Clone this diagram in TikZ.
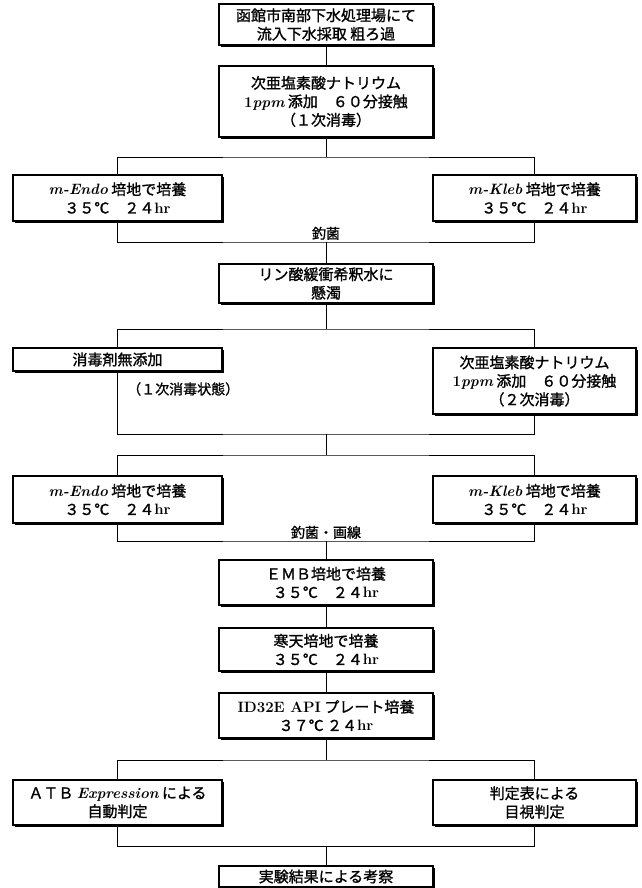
\documentclass[tikz,border=0pt]{standalone}
\usepackage{fontspec}
\usetikzlibrary{shadows}
\newfontfamily\jp[FakeBold=1.2]{Noto Sans CJK JP}
\newcommand\lmbi[1]{{\rmfamily\bfseries\itshape #1}}
\newcommand\lmi[1]{{\rmfamily\bfseries\itshape #1}}
\newcommand\lmb[1]{{\rmfamily\bfseries #1}}
\begin{document}
\begin{tikzpicture}[x=1pt,y=-1pt,
  box/.style={draw, line width=1.1pt, fill=white, inner sep=0pt, align=center,
    font=\jp\fontsize{15}{18.5}\selectfont,
    drop shadow={shadow xshift=2pt, shadow yshift=-2pt, fill=black, opacity=1}},
  cbox/.style={box, minimum width=214pt},
  lbox/.style={box, minimum width=209pt},
  rbox/.style={box, minimum width=203pt},
  conn/.style={line width=0.9pt},
  lbl/.style={font=\jp\fontsize{14}{16}\selectfont, inner sep=1pt}
]
\useasboundingbox[fill=white] (0,0) rectangle (641,888);

% nodes
\node[cbox, minimum height=41pt] (b1) at (326,24.5) {函館市南部下水処理場にて\\流入下水採取 粗ろ過};
\node[cbox, minimum height=71pt] (b2) at (326,101.5) {次亜塩素酸ナトリウム\\\lmb{1}\lmi{ppm} 添加　６０分接触\\（１次消毒）};
\node[lbox, minimum height=46pt] (endo1) at (117.5,198) {\lmbi{m-Endo} 培地で培養\\３５℃　２４\lmb{hr}};
\node[rbox, minimum height=46pt] (kleb1) at (534.5,198) {\lmbi{m-Kleb} 培地で培養\\３５℃　２４\lmb{hr}};
\node[cbox, minimum height=39pt] (rin) at (326,283.5) {リン酸緩衝希釈水に\\懸濁};
\node[lbox, minimum height=23pt] (mu) at (117.5,359.5) {消毒剤無添加};
\node[rbox, minimum height=66pt] (ji2) at (534.5,381) {次亜塩素酸ナトリウム\\\lmb{1}\lmi{ppm} 添加　６０分接触\\（２次消毒）};
\node[lbox, minimum height=47pt] (endo2) at (117.5,499.5) {\lmbi{m-Endo} 培地で培養\\３５℃　２４\lmb{hr}};
\node[rbox, minimum height=47pt] (kleb2) at (534.5,499.5) {\lmbi{m-Kleb} 培地で培養\\３５℃　２４\lmb{hr}};
\node[cbox, minimum height=45pt] (emb) at (326,582.5) {ＥＭＢ培地で培養\\３５℃　２４\lmb{hr}};
\node[cbox, minimum height=43pt] (kan) at (326,649.5) {寒天培地で培養\\３５℃　２４\lmb{hr}};
\node[cbox, minimum height=45pt] (id) at (326,715.5) {\lmb{ID32E API} プレート培養\\３７℃ ２４\lmb{hr}};
\node[lbox, minimum height=45pt] (atb) at (117.5,802.5) {ＡＴＢ \lmi{Expression} による\\自動判定};
\node[rbox, minimum height=45pt] (han) at (534.5,802.5) {判定表による\\目視判定};
\node[cbox, minimum height=21pt] (fin) at (326,876.5) {実験結果による考察};

% branch / join points
\coordinate (br1) at (326,157);
\coordinate (jn1) at (326,242);
\coordinate (br2) at (326,329);
\coordinate (jn2) at (326,434);
\coordinate (br3) at (326,455);
\coordinate (jn3) at (326,541);
\coordinate (br4) at (326,760);
\coordinate (jn4) at (326,846);

% labels
\node[lbl, anchor=south] (l1) at ([yshift=1pt]jn1) {釣菌};
\node[lbl, anchor=west] (l2) at (126,389) {（１次消毒状態）};
\node[lbl, anchor=south] (l3) at ([yshift=1pt]jn3) {釣菌・画線};

% connectors
\draw[conn] (b1) -- (b2);
\draw[conn] (b2) -- (br1);
\draw[conn] (endo1.north) |- (br1) -| (kleb1.north);
\draw[conn] (endo1.south) |- (jn1) -| (kleb1.south);
\draw[conn] (jn1) -- (rin.north);
\draw[conn] (rin) -- (br2);
\draw[conn] (mu.north) |- (br2) -| (ji2.north);
\draw[conn] (mu.south) |- (jn2) -| (ji2.south);
\draw[conn] (jn2) -- (br3);
\draw[conn] (endo2.north) |- (br3) -| (kleb2.north);
\draw[conn] (endo2.south) |- (jn3) -| (kleb2.south);
\draw[conn] (jn3) -- (emb.north);
\draw[conn] (emb) -- (kan);
\draw[conn] (kan) -- (id);
\draw[conn] (id) -- (br4);
\draw[conn] (atb.north) |- (br4) -| (han.north);
\draw[conn] (atb.south) |- (jn4) -| (han.south);
\draw[conn] (jn4) -- (fin.north);
\end{tikzpicture}
\end{document}
